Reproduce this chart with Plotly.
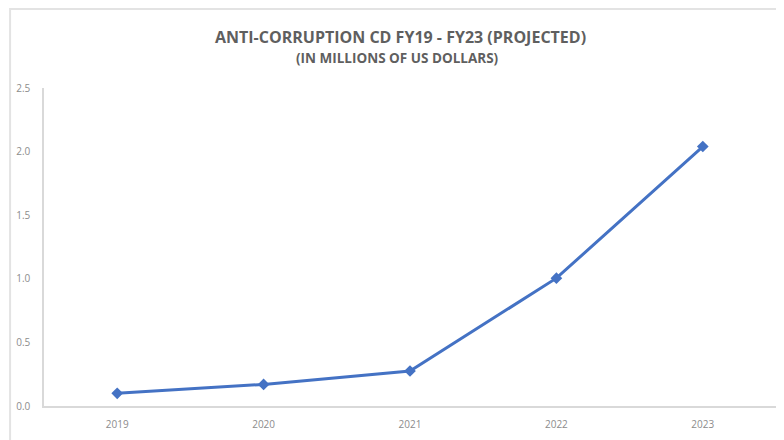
import plotly.graph_objects as go

years = ["2019", "2020", "2021", "2022", "2023"]
values = [0.10, 0.17, 0.275, 1.005, 2.04]
y_ticks = [0.0, 0.5, 1.0, 1.5, 2.0, 2.5]

fig = go.Figure()
fig.add_trace(go.Scatter(
    x=years, y=values, mode="lines+markers",
    line=dict(color="#4472C4", width=3),
    marker=dict(symbol="diamond", size=9, color="#4472C4"),
    showlegend=False,
))

# page has an 8px body margin, so the figure starts at (8, 8) in the window
OFF = 8
W, H = 776, 432
L, T = 42 - OFF, 88 - OFF
R = W - (776 - OFF)
B = H - (406 - OFF)
pw, ph = W - L - R, H - T - B

def px_x(px):
    return (px - OFF - L) / pw

def px_y(py):
    return (H - B - (py - OFF)) / ph

fig.update_layout(
    width=W, height=H,
    margin=dict(l=L, r=R, t=T, b=B),
    paper_bgcolor="white", plot_bgcolor="white",
    font=dict(family="Open Sans", color="#8c8c8c"),
    xaxis=dict(
        type="category", range=[-0.5, 4.5],
        showline=True, linecolor="#d9d9d9", linewidth=2,
        showgrid=False, zeroline=False, ticks="",
        tickfont=dict(size=10, color="#8c8c8c"),
        ticklabelstandoff=8,
    ),
    yaxis=dict(
        range=[0, 2.5], tickvals=y_ticks, tickformat=".1f",
        showline=True, linecolor="#d9d9d9", linewidth=1.5,
        showgrid=False, zeroline=False, ticks="",
        tickfont=dict(size=10, color="#8c8c8c"),
        ticklabelstandoff=10,
    ),
    shapes=[dict(
        type="rect", xref="paper", yref="paper",
        x0=px_x(8), x1=px_x(820), y0=px_y(480), y1=px_y(9),
        line=dict(color="#e3e3e3", width=2), layer="below",
    )],
    annotations=[
        dict(text="<b>ANTI-CORRUPTION CD FY19 - FY23 (PROJECTED)</b>",
             xref="paper", yref="paper", x=px_x(399), y=px_y(37),
             showarrow=False, xanchor="center", yanchor="middle",
             font=dict(size=16, color="#5f5f5f", family="Open Sans")),
        dict(text="<b>(IN MILLIONS OF US DOLLARS)</b>",
             xref="paper", yref="paper", x=px_x(396), y=px_y(58),
             showarrow=False, xanchor="center", yanchor="middle",
             font=dict(size=13.5, color="#5f5f5f", family="Open Sans")),
    ],
)

fig.write_html("out.html")
